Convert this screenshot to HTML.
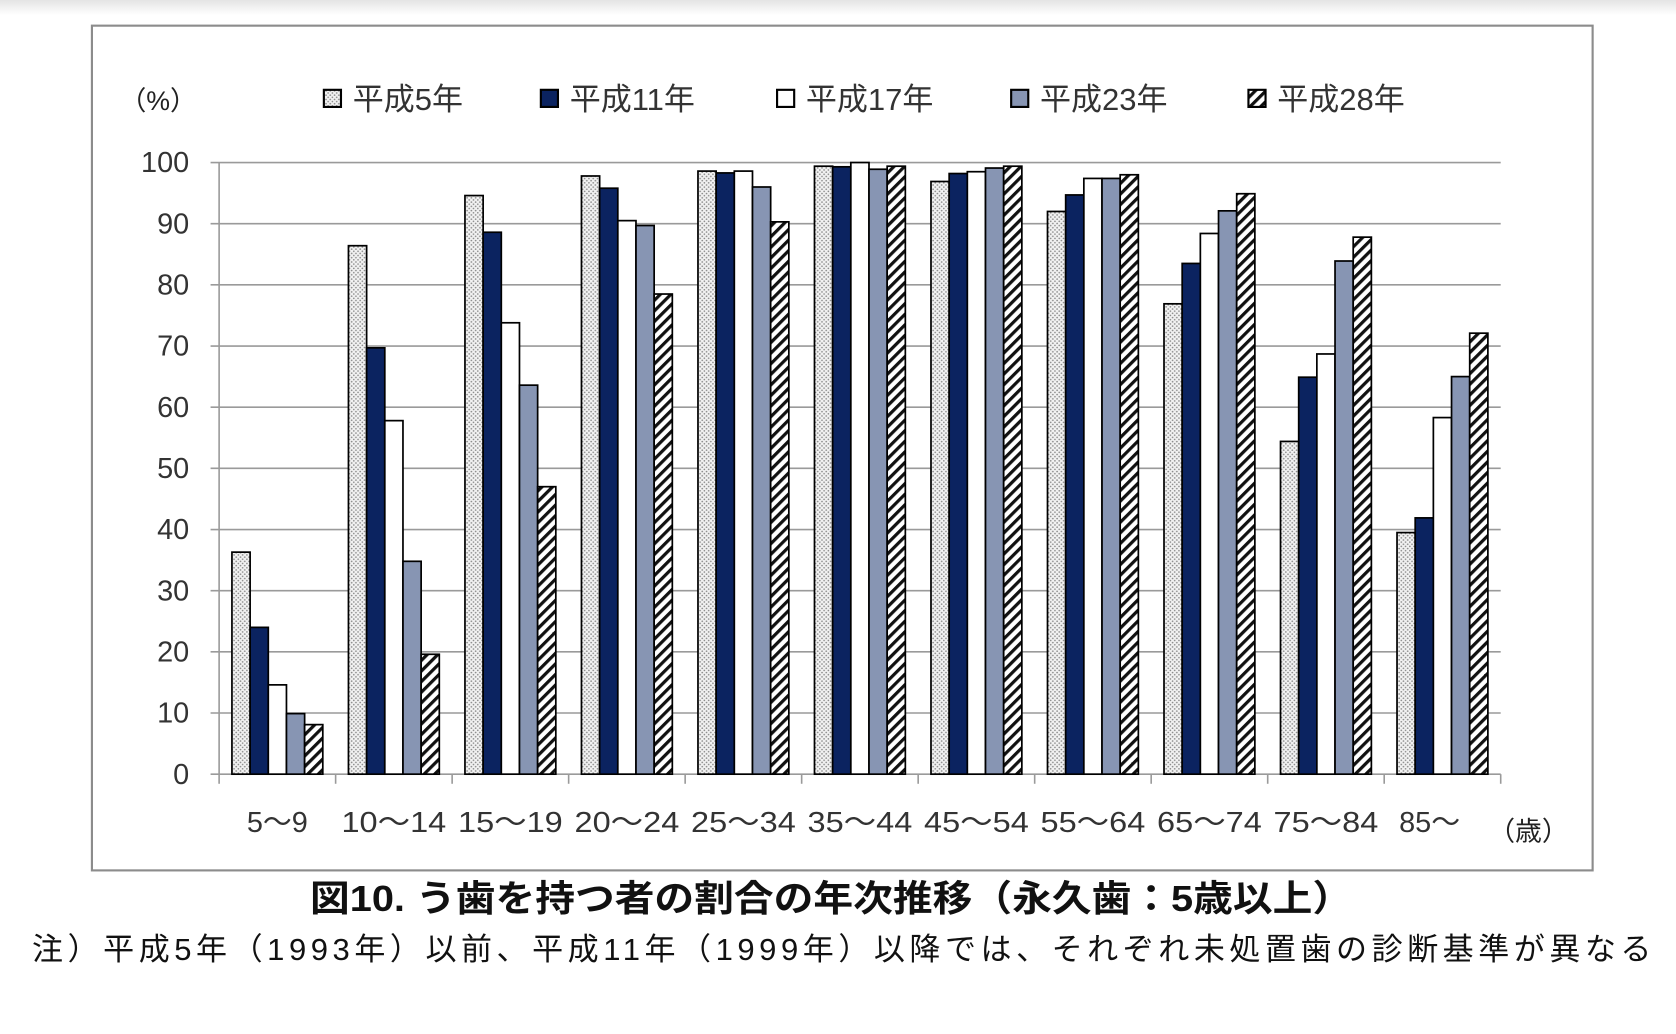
<!DOCTYPE html>
<html><head><meta charset="utf-8">
<style>
html,body{margin:0;padding:0;background:#fff;}
svg{display:block;}
text{font-family:"Liberation Sans","Noto Sans CJK JP",sans-serif;}
</style></head>
<body>
<svg id="chart" width="1676" height="1034" viewBox="0 0 1568 967" preserveAspectRatio="none" xmlns="http://www.w3.org/2000/svg">
<defs>
<linearGradient id="topfade" x1="0" y1="0" x2="0" y2="1">
<stop offset="0" stop-color="#e4e4e4"/><stop offset="1" stop-color="#ffffff"/>
</linearGradient>
<pattern id="dots" width="4" height="4" patternUnits="userSpaceOnUse">
<rect width="4" height="4" fill="#f2f2f2"/>
<circle cx="1" cy="1" r="0.8" fill="#8a8a8a"/><circle cx="3" cy="3" r="0.8" fill="#8a8a8a"/>
</pattern>
<pattern id="hatch" width="7" height="7" patternUnits="userSpaceOnUse" patternTransform="rotate(45)">
<rect width="7" height="7" fill="#fff"/><rect width="3" height="7" fill="#111"/>
</pattern>
</defs>
<rect x="0" y="0" width="1568" height="14" fill="url(#topfade)"/>
<rect x="86" y="24" width="1404" height="790" fill="#fff" stroke="#8c8c8c" stroke-width="2"/>
<g id="grid"></g>
<g id="bars"></g>
<g id="axes"></g>
<text x="148" y="103" font-size="25" text-anchor="middle" fill="#222">（%）</text>
<text x="1430" y="786" font-size="25" text-anchor="middle" fill="#222">（歳）</text>
<g id="legend"></g>
<text x="290" y="852" font-size="34" font-weight="bold" fill="#111" textLength="975" lengthAdjust="spacingAndGlyphs">図10.  う歯を持つ者の割合の年次推移（永久歯：5歳以上）</text>
<text x="30" y="898" font-size="29" fill="#111" textLength="1515">注）平成5年（1993年）以前、平成11年（1999年）以降では、それぞれ未処置歯の診断基準が異なる</text>
</svg>
<script>
const categories = ["5～9","10～14","15～19","20～24","25～34","35～44","45～54","55～64","65～74","75～84","85～"];
const seriesNames = ["平成5年","平成11年","平成17年","平成23年","平成28年"];
const h5  = [36.3, 86.4, 94.6, 97.8, 98.6, 99.4, 96.9, 92.0, 76.9, 54.4, 39.5];
const h11 = [24.0, 69.7, 88.6, 95.8, 98.3, 99.3, 98.2, 94.7, 83.5, 64.9, 41.9];
const h17 = [14.6, 57.8, 73.8, 90.5, 98.6, 100.0, 98.5, 97.4, 88.4, 68.7, 58.3];
const h23 = [9.9, 34.8, 63.6, 89.7, 96.0, 98.9, 99.1, 97.4, 92.1, 83.9, 65.0];
const h28 = [8.1, 19.6, 47.0, 78.5, 90.3, 99.4, 99.4, 98.0, 94.9, 87.8, 72.1];
const yTicks = [0,10,20,30,40,50,60,70,80,90,100];

const series = [h5,h11,h17,h23,h28];
const fills = ["url(#dots)","#0b2360","#ffffff","#8795b3","url(#hatch)"];
const NS = "http://www.w3.org/2000/svg";
const X0 = 205, X1 = 1404, YTOP = 152, YBOT = 724;
const catW = (X1 - X0) / categories.length;
const barW = 17, barOff = 12;
function y(v){ return YBOT - (v/100)*(YBOT-YTOP); }
function xCat(i){ return X0 + i*catW; }
function mk(tag, attrs, parent){ const e=document.createElementNS(NS,tag); for(const k in attrs) e.setAttribute(k,attrs[k]); parent.appendChild(e); return e; }

const grid = document.getElementById('grid');
yTicks.forEach(t=>{
  const l = mk('line',{x1:X0-8,x2:X1,y1:y(t),y2:y(t),stroke:'#9a9a9a','stroke-width':1.5},grid);
  
  
  const tx = mk('text',{x:X0-28,y:y(t)+9,'font-size':27,'text-anchor':'end',fill:'#333'},grid);
  tx.textContent = t;
  
  
});
const axes = document.getElementById('axes');
const ya = mk('line',{x1:X0,x2:X0,y1:YTOP,y2:YBOT,stroke:'#9a9a9a','stroke-width':1.5},axes);


for(let i=0;i<=categories.length;i++){
  const tk = mk('line',{x1:xCat(i),x2:xCat(i),y1:YBOT,y2:YBOT+9,stroke:'#9a9a9a','stroke-width':1.5},axes);
  
  
}
categories.forEach((c,i)=>{
  const tx = mk('text',{x:xCat(i)+catW/2+ (i===10?-12:0),y:778,'font-size':27,'text-anchor':'middle',fill:'#333'},axes);
  tx.textContent = c;
  if(i>0 && i<10){ tx.setAttribute('textLength', 98); tx.setAttribute('lengthAdjust','spacingAndGlyphs'); }
  
  
});
const bars = document.getElementById('bars');
series.forEach((s,si)=>{
  s.forEach((v,i)=>{
    const r = mk('rect',{x:xCat(i)+barOff+si*barW,y:y(v),width:barW,height:YBOT-y(v),fill:fills[si],stroke:'#000','stroke-width':1.6},bars);
    
    
  });
});
const legend = document.getElementById('legend');
const lx = [303,506,727,946,1168];
seriesNames.forEach((n,si)=>{
  const r = mk('rect',{x:lx[si],y:84,width:16,height:16,fill:fills[si],stroke:'#000','stroke-width':2},legend);
  
  
  const t = mk('text',{x:lx[si]+27,y:103,'font-size':29,fill:'#333'},legend);
  t.textContent = n;
  
  
});
</script>
</body></html>
